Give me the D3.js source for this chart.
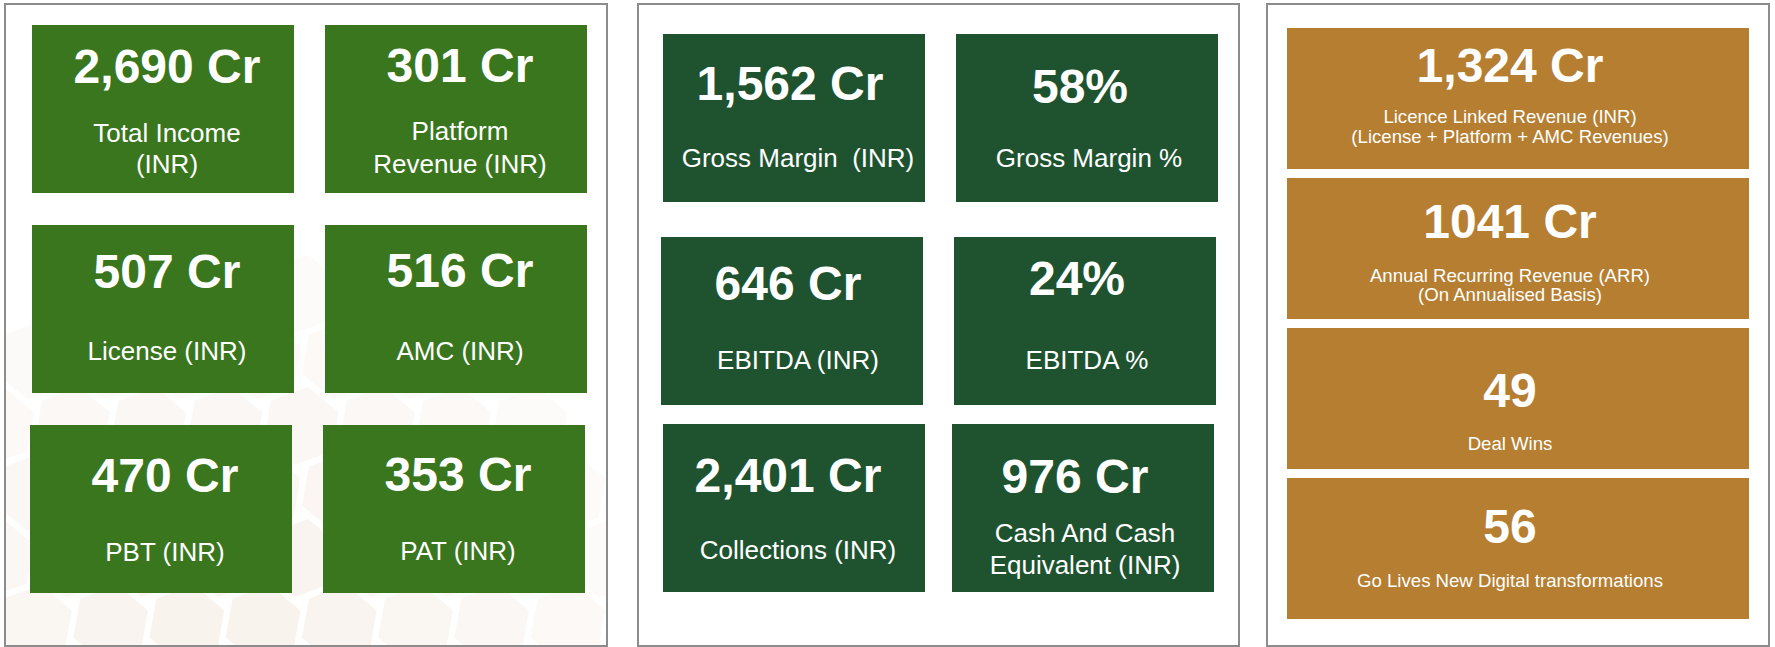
<!DOCTYPE html>
<html><head><meta charset="utf-8">
<script src="https://cdn.jsdelivr.net/npm/d3@7"></script>
<style>
html,body{margin:0;padding:0;background:#fff;}
svg{display:block;}
text{font-family:"Liberation Sans",Arial,Helvetica,sans-serif;fill:#fff;white-space:pre;}
</style>
</head><body>
<svg id="c" width="1775" height="647"></svg>
<script>
// ---------- DATA ----------
const values1 = ["2,690 Cr", "301 Cr", "507 Cr", "516 Cr", "470 Cr", "353 Cr"];
const labels1 = [["Total Income", "(INR)"], ["Platform", "Revenue (INR)"], ["License (INR)"], ["AMC (INR)"], ["PBT (INR)"], ["PAT (INR)"]];
const values2 = ["1,562 Cr", "58%", "646 Cr", "24%", "2,401 Cr", "976 Cr"];
const labels2 = [["Gross Margin  (INR)"], ["Gross Margin %"], ["EBITDA (INR)"], ["EBITDA %"], ["Collections (INR)"], ["Cash And Cash", "Equivalent (INR)"]];
const values3 = ["1,324 Cr", "1041 Cr", "49", "56"];
const labels3 = [["Licence Linked Revenue (INR)", "(License + Platform + AMC Revenues)"], ["Annual Recurring Revenue (ARR)", "(On Annualised Basis)"], ["Deal Wins"], ["Go Lives New Digital transformations"]];

// ---------- LAYOUT (not data) ----------
const W = 1775, H = 647;
const svg = d3.select("#c");
svg.append("rect").attr("width", W).attr("height", H).attr("fill", "#fff");

const panelBoxes = [
  {x0: 5, x1: 607},
  {x0: 638, x1: 1239},
  {x0: 1267, x1: 1769}
];
const panelTop = 4, panelBottom = 646;

// watermark (decorative honeycomb) clipped to panel 1
const defs = svg.append("defs");
defs.append("clipPath").attr("id", "clip1").append("rect")
  .attr("x", panelBoxes[0].x0).attr("y", panelTop)
  .attr("width", panelBoxes[0].x1 - panelBoxes[0].x0).attr("height", panelBottom - panelTop);
const wm = svg.append("g").attr("clip-path", "url(#clip1)");
const hexR = 44, cx0 = 225, cy0 = 690, maxD = 420;
const hexPts = d3.range(6).map(i => {
  const a = Math.PI / 180 * (60 * i - 20);
  return [Math.cos(a), Math.sin(a)];
});
for (let row = -9; row <= 9; row++) {
  for (let col = -9; col <= 9; col++) {
    const x = cx0 + col * hexR * Math.sqrt(3) + ((row & 1) ? hexR * Math.sqrt(3) / 2 : 0);
    const y = cy0 + row * hexR * 1.5;
    const dd = Math.hypot(x - cx0, y - cy0);
    if (dd > maxD) continue;
    const op = Math.max(0, 1 - dd / maxD);
    wm.append("path")
      .attr("d", "M" + hexPts.map(p => [x + p[0] * (hexR - 2), y + p[1] * (hexR - 2)].join(",")).join("L") + "Z")
      .attr("fill", "#f4e8de")
      .attr("opacity", 0.15 + 0.45 * op)
      .attr("stroke", "#fff").attr("stroke-width", 4).attr("stroke-linejoin", "round");
  }
}

// panel borders
svg.selectAll("rect.panel").data(panelBoxes).join("rect")
  .attr("class", "panel")
  .attr("x", d => d.x0).attr("y", panelTop)
  .attr("width", d => d.x1 - d.x0).attr("height", panelBottom - panelTop)
  .attr("fill", "none").attr("stroke", "#8c8c8c").attr("stroke-width", 2);

// ---------- SCALES ----------
const p1x = d3.scaleBand().domain([0, 1]).range([32, 587]).paddingInner(31 / 293);
const p1y = d3.scaleBand().domain([0, 1, 2]).range([25, 593]).paddingInner(32 / 200);
const p2x = d3.scaleBand().domain([0, 1]).range([663, 1218]).paddingInner(31 / 293);
const p2y = d3.scaleOrdinal().domain([0, 1, 2]).range([34, 237, 424]);
const p2h = 168;
const p2nudge = [[0, 0], [-2, -2], [0, -4]];
const p3x = d3.scaleBand().domain([0]).range([1287, 1749]);
const p3y = d3.scaleBand().domain([0, 1, 2, 3]).range([28, 619]).paddingInner(9 / 150);

const p1rowNudge = [0, 0, -2];

const p1text = [
  {v: 58, l: [117, 148]}, {v: 57, l: [115, 148]},
  {v: 63, l: [135]}, {v: 62, l: [135]},
  {v: 67, l: [136]}, {v: 66, l: [135]}
];
const p2text = [
  {v: 66, l: [133], vx: -4, lx: 4}, {v: 69, l: [133], vx: -7, lx: 2},
  {v: 63, l: [132], vx: -4, lx: 6}, {v: 58, l: [132], vx: -8, lx: 2},
  {v: 68, l: [135], vx: -6, lx: 4}, {v: 69, l: [118, 150], vx: -8, lx: 2}
];
const p3text = [
  {v: 54, l: [95, 115]}, {v: 60, l: [104, 123]},
  {v: 79, l: [122]}, {v: 65, l: [109]}
];

const tiles = [];
values1.forEach((v, i) => {
  const c = i % 2, r = Math.floor(i / 2);
  tiles.push({value: v, label: labels1[i], x: p1x(c) + p1rowNudge[r], y: p1y(r), w: p1x.bandwidth(), h: p1y.bandwidth(),
    fill: "#39761e", vs: 48, ls: 26, t: p1text[i], vx: 4, lx: 4});
});
values2.forEach((v, i) => {
  const c = i % 2, r = Math.floor(i / 2);
  tiles.push({value: v, label: labels2[i], x: p2x(c) + p2nudge[r][c], y: p2y(r), w: p2x.bandwidth(), h: p2h,
    fill: "#1f532f", vs: 48, ls: 26, t: p2text[i], vx: p2text[i].vx, lx: p2text[i].lx});
});
values3.forEach((v, i) => {
  tiles.push({value: v, label: labels3[i], x: p3x(0), y: p3y(i), w: p3x.bandwidth(), h: p3y.bandwidth(),
    fill: "#b67e31", vs: 48, ls: 18.6, t: p3text[i], vx: -8, lx: -8});
});

const g = svg.selectAll("g.tile").data(tiles).join("g").attr("class", "tile");
g.append("rect")
  .attr("x", d => d.x).attr("y", d => d.y).attr("width", d => d.w).attr("height", d => d.h)
  .attr("fill", d => d.fill);
g.append("text")
  .attr("x", d => d.x + d.w / 2 + d.vx).attr("y", d => d.y + d.t.v)
  .attr("text-anchor", "middle").attr("font-weight", "bold")
  .attr("font-size", d => d.vs)
  .text(d => d.value);
g.each(function(d) {
  const sel = d3.select(this);
  d.label.forEach((line, k) => {
    sel.append("text")
      .attr("x", d.x + d.w / 2 + d.lx).attr("y", d.y + d.t.l[k])
      .attr("text-anchor", "middle")
      .attr("font-size", d.ls)
      .text(line);
  });
});
</script>
</body></html>
